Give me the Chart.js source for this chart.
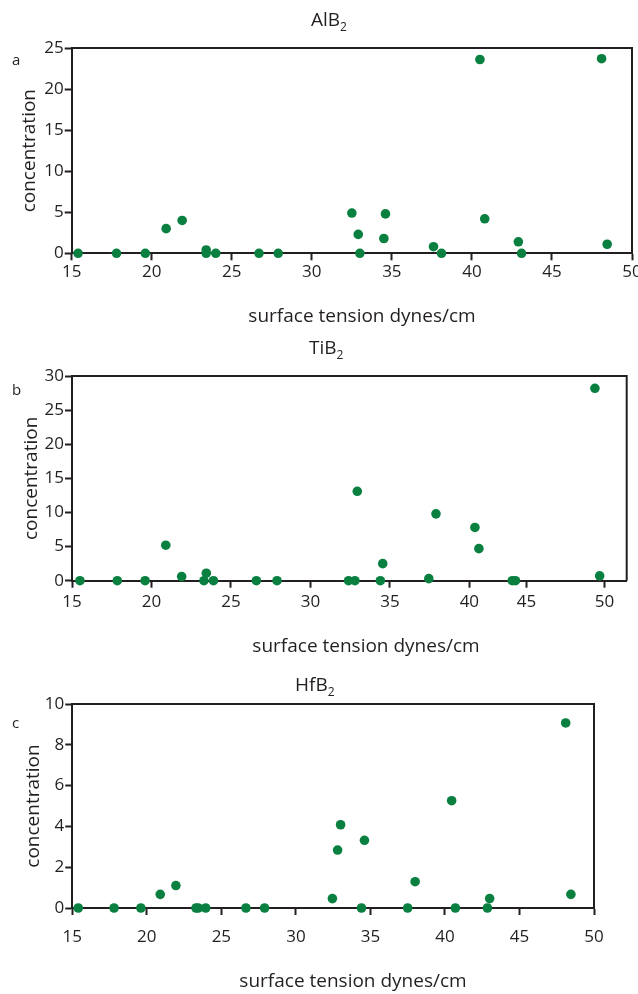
<!DOCTYPE html>
<html>
<head>
<meta charset="utf-8">
<script src="https://cdn.jsdelivr.net/npm/chart.js@4.4.1/dist/chart.umd.min.js"></script>
<style>
  body { margin: 0; background: #fff; }
  #page { position: relative; width: 638px; height: 994px; overflow: hidden; font-family: "Open Sans", sans-serif; color: #231f20; }
  canvas { position: absolute; left: 0; }
  .title { position: absolute; font-size: 19px; line-height: 19px; white-space: nowrap; }
  .title sub { font-size: 12px; vertical-align: -5px; line-height: 0; }
  .tag { position: absolute; font-size: 15px; line-height: 15px; }
  .xtitle { position: absolute; font-size: 19px; line-height: 19px; white-space: nowrap; transform: translateX(-50%); }
</style>
</head>
<body>
<div id="page">
  <canvas id="chartA" width="638" height="330" style="top:0px"></canvas>
  <canvas id="chartB" width="638" height="330" style="top:330px"></canvas>
  <canvas id="chartC" width="638" height="334" style="top:660px"></canvas>

  <div class="title" style="left:311px; top:10px">AlB<sub>2</sub></div>
  <div class="title" style="left:309px; top:338px">TiB<sub>2</sub></div>
  <div class="title" style="left:295px; top:675px">HfB<sub>2</sub></div>

  <div class="tag" style="left:12px; top:52px">a</div>
  <div class="tag" style="left:12px; top:382px">b</div>
  <div class="tag" style="left:12px; top:715px">c</div>

  <div class="xtitle" style="left:362px; top:306px">surface tension dynes/cm</div>
  <div class="xtitle" style="left:366px; top:636px">surface tension dynes/cm</div>
  <div class="xtitle" style="left:353px; top:971px">surface tension dynes/cm</div>
</div>
<script>
// AlB2 (panel a)
const alX = [15.4, 17.8, 19.6, 20.9, 21.9, 23.4, 23.4, 24.0, 26.7, 27.9, 32.5, 32.9, 33.0, 34.6, 34.5, 37.6, 38.1, 40.5, 40.8, 42.9, 43.1, 48.1, 48.45];
const alY = [0, 0, 0, 3.0, 4.0, 0.4, 0, 0, 0, 0, 4.9, 2.3, 0, 4.8, 1.8, 0.8, 0, 23.6, 4.2, 1.4, 0, 23.7, 1.1];

// TiB2 (panel b)
const tiX = [15.5, 17.85, 19.6, 20.9, 21.9, 23.45, 23.3, 23.9, 26.6, 27.9, 32.4, 32.8, 32.95, 34.4, 34.55, 37.45, 37.9, 40.35, 40.6, 42.7, 42.9, 47.9, 48.2];
const tiY = [0, 0, 0, 5.2, 0.6, 1.1, 0, 0, 0, 0, 0, 0, 13.1, 0, 2.5, 0.3, 9.8, 7.8, 4.7, 0, 0, 28.2, 0.7];
// the TiB2 x axis in the figure has its 45 and 50 labels set off their true values
const tiTickValues = [15, 20, 25, 30, 35, 40, 43.6, 48.5];
const tiTickLabels = ['15', '20', '25', '30', '35', '40', '45', '50'];

// HfB2 (panel c)
const hfX = [15.4, 17.8, 19.6, 20.9, 21.95, 23.3, 23.45, 23.95, 26.65, 27.9, 32.45, 32.8, 33.0, 34.4, 34.6, 37.5, 38.0, 40.45, 40.7, 42.85, 43.0, 48.1, 48.45];
const hfY = [0, 0, 0, 0.67, 1.1, 0, 0, 0, 0, 0, 0.46, 2.84, 4.08, 0, 3.32, 0, 1.29, 5.26, 0, 0, 0.46, 9.07, 0.67];

const yTitle = 'concentration';
const dotColor = '#0a8040';
const inkColor = '#231f20';

// draws the top and right sides of the plot box
const frameBox = {
    id: 'frameBox',
    beforeDatasetsDraw(chart) {
        const { ctx, chartArea } = chart;
        ctx.save();
        ctx.strokeStyle = inkColor;
        ctx.lineWidth = 2;
        ctx.beginPath();
        ctx.moveTo(chartArea.left, chartArea.top);
        ctx.lineTo(chartArea.right, chartArea.top);
        ctx.lineTo(chartArea.right, chartArea.bottom);
        ctx.stroke();
        ctx.restore();
    }
};

function toPoints(xs, ys) {
    return xs.map((x, i) => ({ x: x, y: ys[i] }));
}

function makePanel(id, xs, ys, box, xRange, yRange) {
    const ctx = document.getElementById(id).getContext('2d');
    const xTicks = { color: inkColor, font: { family: 'Open Sans', size: 17 }, padding: box.xPad, maxRotation: 0, autoSkip: false };
    if (xRange.step) xTicks.stepSize = xRange.step;
    if (xRange.labels) xTicks.callback = (v, i) => xRange.labels[i];

    const xAxis = {
        type: 'linear',
        position: 'bottom',
        min: xRange.min,
        max: xRange.max,
        border: { display: true, color: inkColor, width: 2 },
        grid: { drawOnChartArea: false, drawTicks: true, tickLength: 7, tickWidth: 2, tickColor: inkColor },
        ticks: xTicks,
        afterFit(scale) {
            scale.height = box.xHeight;
            scale.paddingLeft = 0;
            scale.paddingRight = 0;
        }
    };
    if (xRange.values) {
        xAxis.afterBuildTicks = scale => { scale.ticks = xRange.values.map(v => ({ value: v })); };
    }

    return new Chart(ctx, {
        type: 'scatter',
        data: {
            datasets: [{
                data: toPoints(xs, ys),
                backgroundColor: dotColor,
                borderWidth: 0,
                pointRadius: 4.8,
                pointHoverRadius: 4.8,
                clip: false
            }]
        },
        options: {
            responsive: false,
            animation: false,
            events: [],
            layout: { padding: { left: 0, top: box.top, right: box.right, bottom: 0 } },
            plugins: { legend: { display: false }, tooltip: { enabled: false } },
            scales: {
                x: xAxis,
                y: {
                    type: 'linear',
                    min: yRange.min,
                    max: yRange.max,
                    border: { display: true, color: inkColor, width: 2 },
                    grid: { drawOnChartArea: false, drawTicks: true, tickLength: 7, tickWidth: 2, tickColor: inkColor },
                    ticks: { color: inkColor, font: { family: 'Open Sans', size: 17 }, padding: 1, stepSize: yRange.step },
                    title: {
                        display: true,
                        text: yTitle,
                        color: inkColor,
                        font: { family: 'Open Sans', size: 19 },
                        padding: { top: box.yTitlePad, bottom: 0 }
                    },
                    afterFit(scale) {
                        scale.width = box.left;
                        scale.paddingTop = 0;
                        scale.paddingBottom = 0;
                    }
                }
            }
        },
        plugins: [frameBox]
    });
}

makePanel('chartA', alX, alY,
    { left: 71.7, top: 48, right: 6, xHeight: 330 - 253.3, xPad: 2, yTitlePad: 18 },
    { min: 15, max: 50, step: 5 },
    { min: 0, max: 25, step: 5 });

makePanel('chartB', tiX, tiY,
    { left: 72, top: 46, right: 11.3, xHeight: 330 - 250.7, xPad: 4, yTitlePad: 20 },
    { min: 15, max: 49.9, values: tiTickValues, labels: tiTickLabels },
    { min: 0, max: 30, step: 5 });

makePanel('chartC', hfX, hfY,
    { left: 72.3, top: 44, right: 44, xHeight: 334 - 248, xPad: 12, yTitlePad: 22 },
    { min: 15, max: 50, step: 5 },
    { min: 0, max: 10, step: 2 });
</script>
</body>
</html>
